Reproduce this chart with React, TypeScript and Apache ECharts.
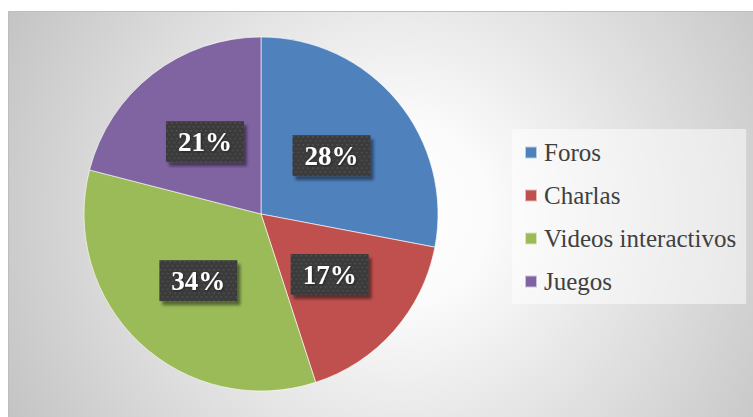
import React, { useEffect, useRef } from "react";
import * as echarts from "echarts";

const categories = ["Foros", "Charlas", "Videos interactivos", "Juegos"];
const values = [28, 17, 34, 21];
const colors = ["#4f81bd", "#c0504d", "#9bbb59", "#8064a2"];

function makePattern(): string {
  const c = document.createElement("canvas");
  c.width = 80;
  c.height = 42;
  const ctx = c.getContext("2d");
  if (!ctx) return "";
  ctx.fillStyle = "#3b3b3b";
  ctx.fillRect(0, 0, 80, 42);
  ctx.fillStyle = "#505050";
  let row = 0;
  for (let y = 1; y < 42; y += 4) {
    const off = row % 2 === 0 ? 0 : 2.5;
    for (let x = off; x < 80; x += 5) {
      ctx.fillRect(x, y, 2, 1.5);
    }
    row++;
  }
  return c.toDataURL();
}

export default function App() {
  const ref = useRef<HTMLDivElement>(null);
  useEffect(() => {
    if (!ref.current) return;
    const chart = echarts.init(ref.current, undefined, { renderer: "svg" });
    const pattern = makePattern();
    chart.setOption({
      animation: false,
      graphic: [
        {
          type: "rect",
          z: -10,
          shape: { x: 8.5, y: 11.5, width: 745, height: 406 },
          style: {
            fill: {
              type: "radial",
              x: 400,
              y: 214,
              r: 440,
              global: true,
              colorStops: [
                { offset: 0, color: "#ffffff" },
                { offset: 0.2, color: "#fbfbfb" },
                { offset: 1, color: "#c4c4c4" },
              ],
            },
            stroke: "#bdbdbd",
            lineWidth: 1,
          },
        },
      ],
      legend: {
        orient: "vertical",
        left: 512,
        top: 129,
        padding: [11, 10, 10, 12],
        itemGap: 18,
        itemWidth: 12,
        itemHeight: 12,
        icon: "rect",
        backgroundColor: "rgba(255,255,255,0.5)",
        data: categories,
        textStyle: {
          fontFamily: "Liberation Serif",
          fontSize: 25,
          lineHeight: 25,
          color: "#404040",
          padding: [0, 0, 0, 2],
        },
      },
      series: [
        {
          type: "pie",
          center: [261, 214],
          radius: 177,
          startAngle: 90,
          clockwise: true,
          color: colors,
          itemStyle: { borderColor: "rgba(255,255,255,0.6)", borderWidth: 1 },
          label: {
            show: true,
            position: "inside",
            formatter: (p: any) => p.value + "%",
            fontFamily: "Liberation Serif",
            fontWeight: "bold",
            fontSize: 27,
            color: "#ffffff",
            backgroundColor: pattern ? { image: pattern } : "#3e3e3e",
            padding: [7, 12, 7, 12],
            shadowColor: "rgba(0,0,0,0.45)",
            shadowBlur: 3,
            shadowOffsetX: 3,
            shadowOffsetY: 4,
            textShadowColor: "rgba(0,0,0,0.4)",
            textShadowBlur: 2,
            textShadowOffsetX: 1,
            textShadowOffsetY: 1,
          },
          labelLine: { show: false },
          data: categories.map((c, i) => ({ name: c, value: values[i] })),
        },
      ],
    });
    return () => chart.dispose();
  }, []);
  return (
    <div
      ref={ref}
      style={{ position: "absolute", left: 0, top: 0, width: 753, height: 417 }}
    />
  );
}
